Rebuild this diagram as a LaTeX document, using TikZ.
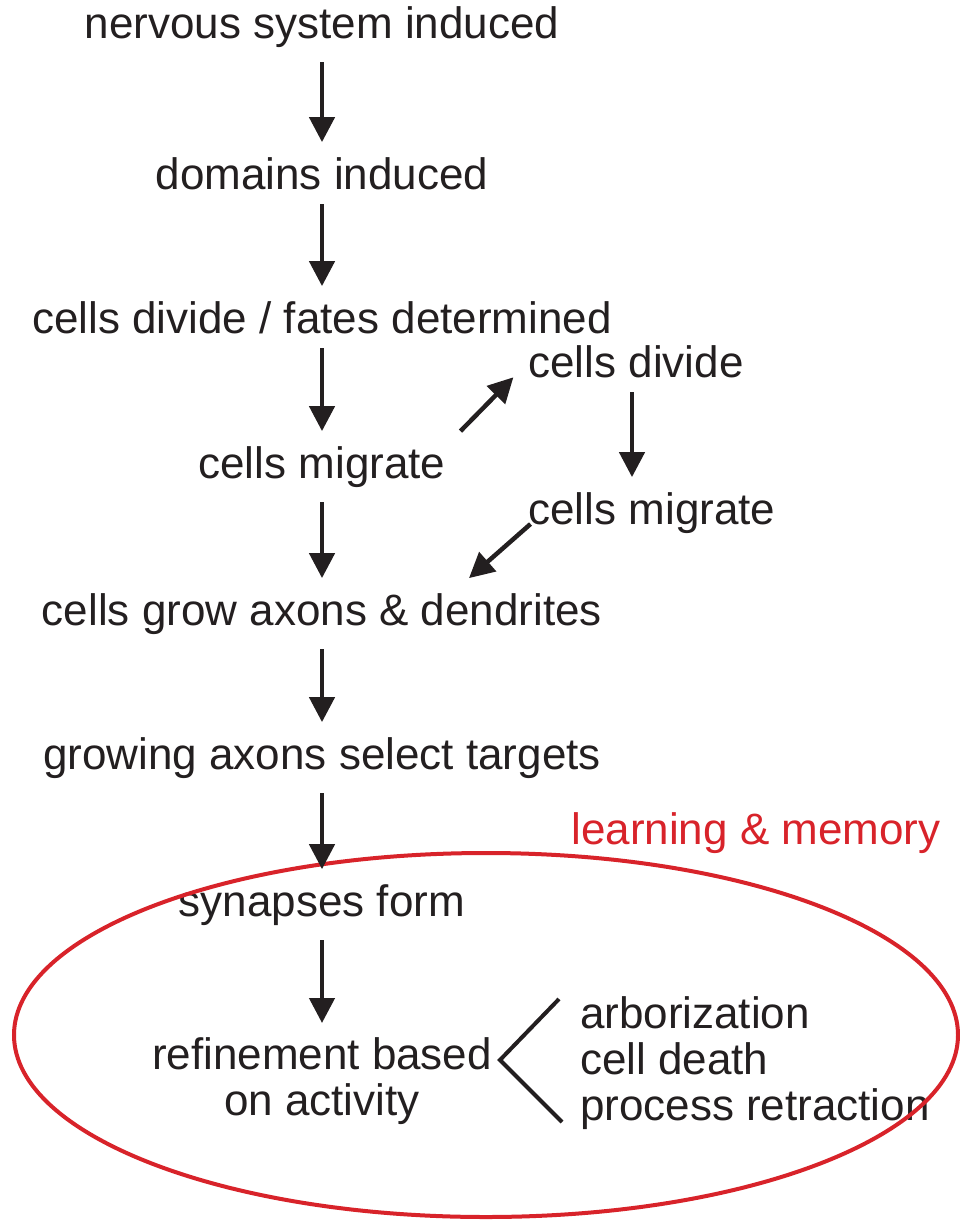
\documentclass[tikz,border=0pt]{standalone}
\usepackage{fontspec}
\setmainfont{Liberation Sans}
\usepackage{tikz}
\usetikzlibrary{arrows.meta}
\usepackage{xcolor}
\definecolor{Ink}{HTML}{231F20}
\definecolor{MemRed}{HTML}{D8232A}
\newcommand{\stagefont}{\fontsize{44}{46}\selectfont}

\begin{document}
\begin{tikzpicture}[x=1pt,y=-1pt,
    stage/.style={text=Ink,inner sep=0pt,outer sep=15pt,font=\stagefont},
    flow/.style={draw=Ink,line width=4.5pt,-{Triangle[width=25pt,length=25pt]}}]
    \useasboundingbox (0,0) rectangle (959,1221);

    % main column
    \node[stage,anchor=base] (nsi) at (322,38) {nervous system induced};
    \node[stage,anchor=base] (dom) at (322,189) {domains induced};
    \node[stage,anchor=base] (cdf) at (322,333) {cells divide / fates determined};
    \node[stage,anchor=base] (cmi) at (322,478) {cells migrate};
    \node[stage,anchor=base] (cga) at (322,625) {cells grow axons \& dendrites};
    \node[stage,anchor=base] (gas) at (322,769) {growing axons select targets};
    \node[stage,anchor=base] (syn) at (322,916) {synapses form};
    \node[stage,anchor=north,align=center] (ref) at (322,1023) {refinement based\\on activity};

    % side loop
    \node[stage,anchor=base] (cdv) at (636,377) {cells divide};
    \node[stage,anchor=base] (cmr) at (652,524) {cells migrate};

    % outcomes
    \node[stage,outer sep=0pt,anchor=north west,align=left] (out) at (580,997) {arborization\\cell death\\process retraction};
    \coordinate (fork) at (500,1060);

    \node[stage,text=MemRed,anchor=base] (mem) at (756,844) {learning \& memory};
    \draw[MemRed,line width=4pt] (486,1035) ellipse [x radius=472,y radius=182];

    \draw[flow] (nsi.south) -- (dom.north);
    \draw[flow] (dom.south) -- (cdf.north);
    \draw[flow] (cdf.south) -- (cmi.north);
    \draw[flow] (cmi.south) -- (cga.north);
    \draw[flow] (cga.south) -- (gas.north);
    \draw[flow] (gas.south) -- (syn.north);
    \draw[flow] (syn.south) -- (ref.north);

    \draw[flow] (cmi.north east) -- ([yshift=-16pt]cdv.west);
    \draw[flow] ([xshift=-4pt]cdv.south) -- ([xshift=-4pt]cdv.south |- cmr.north);
    \draw[flow] ([xshift=17pt]cmr.base west) -- ([xshift=147pt]cga.north);

    \draw[Ink,line width=4pt] ([xshift=-21pt,yshift=-2pt]out.north west) -- (fork) -- ([xshift=-18pt,yshift=8pt]out.south west);
\end{tikzpicture}
\end{document}
